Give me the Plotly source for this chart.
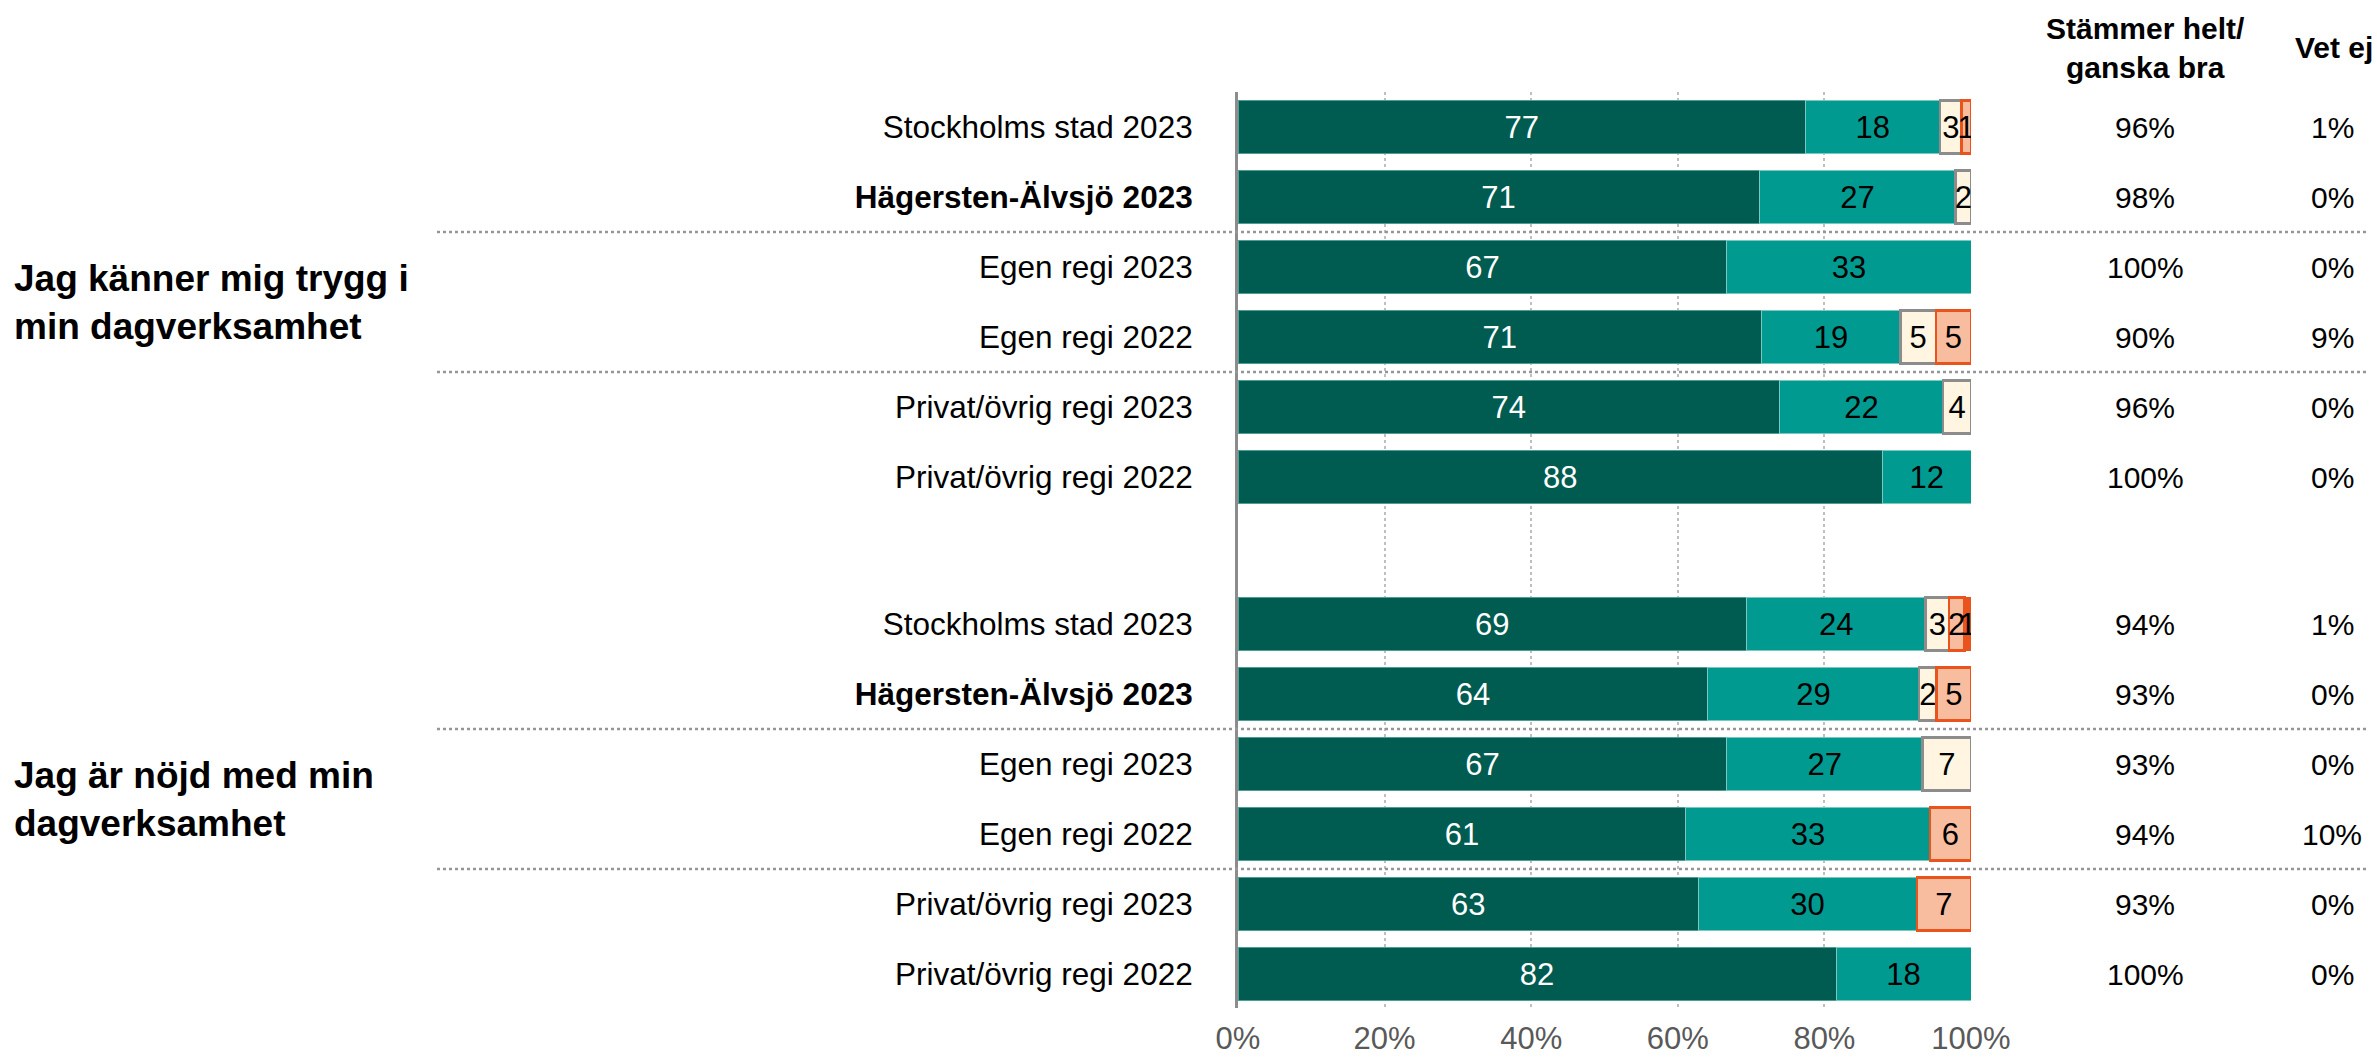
import plotly.graph_objects as go

# ---------------- data ----------------
categories = ["Stockholms stad 2023", "Hägersten-Älvsjö 2023", "Egen regi 2023",
              "Egen regi 2022", "Privat/övrig regi 2023", "Privat/övrig regi 2022"]
bold_category = "Hägersten-Älvsjö 2023"
questions = ["Jag känner mig trygg i<br>min dagverksamhet",
             "Jag är nöjd med min<br>dagverksamhet"]

# percentages per response option, question 1 then question 2 (6 rows each)
helt_q1 = [77.4, 71.1, 66.7, 71.4, 73.9, 87.9]
ganska_bra_q1 = [18.4, 26.8, 33.3, 19.0, 22.3, 12.1]
varken_q1 = [2.9, 2.1, None, 4.8, 3.8, None]
ganska_dalig_q1 = [1.3, None, None, 4.8, None, None]
inte_alls_q1 = [None, None, None, None, None, None]

helt_q2 = [69.4, 64.1, 66.7, 61.1, 62.8, 81.6]
ganska_bra_q2 = [24.4, 28.8, 26.7, 33.3, 29.8, 18.4]
varken_q2 = [3.2, 2.4, 6.6, None, None, None]
ganska_dalig_q2 = [2.1, 4.7, None, 5.6, 7.4, None]
inte_alls_q2 = [0.9, None, None, None, None, None]

stammer_q1 = ["96%", "98%", "100%", "90%", "96%", "100%"]
vetej_q1 = ["1%", "0%", "0%", "9%", "0%", "0%"]
stammer_q2 = ["94%", "93%", "93%", "94%", "93%", "100%"]
vetej_q2 = ["1%", "0%", "0%", "10%", "0%", "0%"]

x_ticks = [0, 20, 40, 60, 80, 100]
x_ticklabels = ["0%", "20%", "40%", "60%", "80%", "100%"]

# ---------------- layout helpers ----------------
W, H = 2377, 1061
ML, MR, MT, MB = 1238, 406, 92, 53
ROW0_PX, PITCH_PX = 127, 70
GROUP_OFFSET = 7.1
pos_q1 = [i for i in range(len(categories))]
pos_q2 = [i + GROUP_OFFSET for i in range(len(categories))]
positions = pos_q1 + pos_q2

SANS = "Liberation Sans, Arial, sans-serif"

series = [
    ("Stämmer helt", helt_q1 + helt_q2, "#005b50", "#4f9d94", 1, "white"),
    ("Stämmer ganska bra", ganska_bra_q1 + ganska_bra_q2, "#009a90", "#7cc7c0", 1, "black"),
    ("Varken eller", varken_q1 + varken_q2, "#fff5e1", "#8c8c8c", 2.5, "black"),
    ("Stämmer ganska dåligt", ganska_dalig_q1 + ganska_dalig_q2, "#f8bd9e", "#e8541c", 2.5, "black"),
    ("Stämmer inte alls", inte_alls_q1 + inte_alls_q2, "#e8541c", "#e8541c", 1, "black"),
]

fig = go.Figure()
for name, vals, color, lcolor, lw, tcolor in series:
    fig.add_trace(go.Bar(
        name=name, orientation="h", y=positions, x=vals,
        text=["" if v is None else f"{v:.0f}" for v in vals],
        textposition="inside", insidetextanchor="middle", textangle=0,
        textfont=dict(family=SANS, size=31, color=tcolor),
        marker=dict(color=color, line=dict(color=lcolor, width=lw)),
        width=0.76, hoverinfo="skip", constraintext="none",
    ))

def px_to_paper_x(px):
    return (px - ML) / (W - ML - MR)

def px_to_paper_y(py):
    return (H - MB - py) / (H - MT - MB)

annotations = []
# group labels
for q, center in zip(questions, [2.5, 2.5 + GROUP_OFFSET]):
    annotations.append(dict(
        text=f"<b>{q}</b>", x=px_to_paper_x(12), xref="paper", xanchor="left",
        y=center, yref="y", yanchor="middle", align="left", showarrow=False,
        font=dict(family=SANS, size=37, color="black")))
# headers
annotations.append(dict(text="<b>Stämmer helt/<br>ganska bra</b>", x=px_to_paper_x(2145), xref="paper",
                        y=px_to_paper_y(48), yref="paper", showarrow=False, xanchor="center",
                        yanchor="middle", font=dict(family=SANS, size=30, color="black")))
annotations.append(dict(text="<b>Vet ej</b>", x=px_to_paper_x(2334), xref="paper",
                        y=px_to_paper_y(47), yref="paper", showarrow=False, xanchor="center",
                        yanchor="middle", font=dict(family=SANS, size=30, color="black")))
# value columns
for col_vals, xpx in [(stammer_q1 + stammer_q2, 2145), (vetej_q1 + vetej_q2, 2332)]:
    for v, p in zip(col_vals, positions):
        annotations.append(dict(text=v, x=px_to_paper_x(xpx), xref="paper", y=p, yref="y",
                                showarrow=False, xanchor="center", yanchor="middle",
                                font=dict(family=SANS, size=30, color="black")))

# separators between sub-groups
shapes = []
for p in [1.5, 3.5, 1.5 + GROUP_OFFSET, 3.5 + GROUP_OFFSET]:
    shapes.append(dict(type="line", xref="paper", yref="y",
                       x0=px_to_paper_x(437), x1=px_to_paper_x(2368), y0=p, y1=p,
                       line=dict(color="#969696", width=2.5, dash="dot"), layer="above"))

ticktext = [f"<b>{c}</b>" if c == bold_category else c for c in categories] * 2

y_top = (MT - ROW0_PX) / PITCH_PX
y_bottom = (H - MB - ROW0_PX) / PITCH_PX

fig.update_layout(
    barmode="stack", width=W, height=H, showlegend=False,
    margin=dict(l=ML, r=MR, t=MT, b=MB, pad=0, autoexpand=False),
    plot_bgcolor="white", paper_bgcolor="white",
    annotations=annotations, shapes=shapes,
    xaxis=dict(range=[0, 100], tickvals=x_ticks, ticktext=x_ticklabels,
               showgrid=True, gridcolor="#bfbfbf", gridwidth=2, griddash="dot",
               zeroline=False, showline=False, ticks="", ticklabelstandoff=9,
               automargin=False,
               tickfont=dict(family=SANS, size=31, color="#595959"), fixedrange=True),
    yaxis=dict(range=[y_bottom, y_top],
               tickvals=positions, ticktext=ticktext, showgrid=False, zeroline=False,
               showline=True, linecolor="#8c8c8c", linewidth=3, ticks="",
               ticklabelstandoff=36, automargin=False,
               tickfont=dict(family=SANS, size=31.5, color="black"), fixedrange=True),
)

fig.write_html("out.html", config={"displayModeBar": False, "staticPlot": True},
               post_script="document.body.style.margin='0';document.body.style.overflow='hidden';")
